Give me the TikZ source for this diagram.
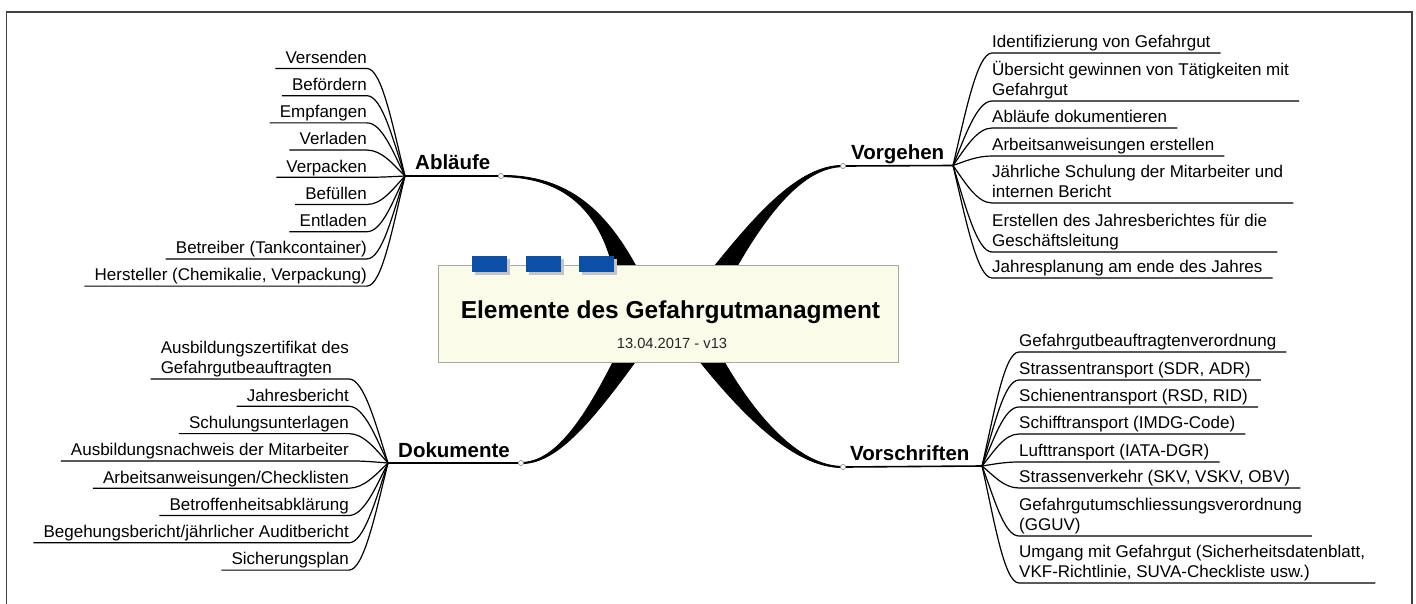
\documentclass[tikz,border=0pt]{standalone}
\usepackage{fontspec}
\setmainfont{Liberation Sans}
\usetikzlibrary{calc}
\definecolor{cream}{HTML}{FBFBEA}
\definecolor{boxline}{HTML}{A8A8A0}
\definecolor{tabblue}{HTML}{0B4FA6}
\definecolor{tabshade}{HTML}{C4C4C4}
\definecolor{framecol}{HTML}{404040}
\newcommand{\twolines}[2]{\begin{tabular}[b]{@{}l@{}}#1\\#2\end{tabular}}
\begin{document}
\begin{tikzpicture}[x=1pt,y=-1pt,
  kid/.style={inner sep=0pt, text depth=5pt, font=\fontsize{17}{20.5}\selectfont},
  lkid/.style={kid, anchor=south east},
  rkid/.style={kid, anchor=south west},
  branch/.style={inner sep=0pt, anchor=base west, font=\fontsize{20.5}{24}\selectfont\bfseries},
  twig/.style={line width=1.2pt, black},
  bough/.style={line width=1.6pt, black},
  knob/.style={circle, draw=gray, fill=white, inner sep=0pt, minimum size=5pt, line width=0.6pt},
  limb/.style={fill=black, draw=black, line width=0.8pt, line join=round},
  tabbox/.style={fill=tabblue, draw=none}
]
\useasboundingbox (0,0) rectangle (1416,604);
\fill[white] (0,0) rectangle (1416,604);
% frame
\draw[framecol, line width=1.3pt] (6.5,604) -- (6.5,12) -- (1412,12) -- (1412,604);

% fan points
\coordinate (fanA) at (405,176);
\coordinate (fanV) at (953,165.5);
\coordinate (fanD) at (388,463);
\coordinate (fanS) at (982,466);

% thick tapered limbs (behind the box)
\fill[limb] (501,175.4) .. controls (570,175) and (607,213) .. (637,268) -- (613,268) .. controls (600,215) and (568,177) .. (501,176.7) -- cycle;
\fill[limb] (843,165.4) .. controls (800,165) and (758,212) .. (713,268) -- (736,268) .. controls (766,216) and (802,167) .. (843,166.7) -- cycle;
\fill[limb] (521,463.6) .. controls (556,464) and (590,424) .. (638,358) -- (615,358) .. controls (583,422) and (554,462.5) .. (521,462.4) -- cycle;
\fill[limb] (843,467.6) .. controls (800,468) and (752,427) .. (697,358) -- (722,358) .. controls (759,423) and (802,466.5) .. (843,466.4) -- cycle;

% central box
\node[draw=boxline, fill=cream, line width=0.8pt, minimum width=460pt, minimum height=97pt, inner sep=0pt] (core) at (668,313.5) {};
\foreach \x in {472,526,579}{
  \fill[tabshade] (\x+2.5,258.5) rectangle (\x+37.5,274.5);
  \fill[tabblue] (\x,256) rectangle (\x+35,272);
}
\node[font=\fontsize{24.5}{28}\selectfont\bfseries, anchor=base, inner sep=0pt] (title) at (670.5,318) {Elemente des Gefahrgutmanagment};
\node[font=\fontsize{14.7}{17}\selectfont, anchor=base, inner sep=0pt, text=black!85] (date) at (672,348.5) {13.04.2017 - v13};

% branch labels, underlines, knobs
\node[branch] (lA) at (415,170) {Abläufe};
\node[branch] (lV) at (851,159.5) {Vorgehen};
\node[branch] (lD) at (398,457.3) {Dokumente};
\node[branch] (lS) at (850,460) {Vorschriften};
\node[knob] (kA) at (501,176) {};
\node[knob] (kV) at (843,166) {};
\node[knob] (kD) at (521,463) {};
\node[knob] (kS) at (843,467) {};
\draw[bough] (fanA) -- (kA.west);
\draw[bough] (fanV) -- (kV.east);
\draw[bough] (fanD) -- (kD.west);
\draw[bough] (fanS) -- (kS.east);

% Ablaeufe children
\node[lkid] (a1) at (367,68.5) {Versenden};
\node[lkid] (a2) at (367,95.7) {Befördern};
\node[lkid] (a3) at (367,122.9) {Empfangen};
\node[lkid] (a4) at (367,150.1) {Verladen};
\node[lkid] (a5) at (367,177.3) {Verpacken};
\node[lkid] (a6) at (367,204.5) {Befüllen};
\node[lkid] (a7) at (367,231.7) {Entladen};
\node[lkid] (a8) at (367,258.9) {Betreiber (Tankcontainer)};
\node[lkid] (a9) at (367,286.1) {Hersteller (Chemikalie, Verpackung)};
\foreach \k in {a1,a2,a3,a4,a5,a6,a7,a8,a9}{
  \draw[twig] ([xshift=-10pt]\k.south west) -- (\k.south east) .. controls ($(\k.south east)+(15,0)$) and ($(fanA)!0.45!(fanA|-\k.south)+(-12,0)$) .. (fanA);
}

% Dokumente children
\node[lkid] (d1) at (349,379) {\twolines{Ausbildungszertifikat des}{Gefahrgutbeauftragten}};
\node[lkid] (d2) at (349,406.3) {Jahresbericht};
\node[lkid] (d3) at (349,433.6) {Schulungsunterlagen};
\node[lkid] (d4) at (349,460.9) {Ausbildungsnachweis der Mitarbeiter};
\node[lkid] (d5) at (349,488.2) {Arbeitsanweisungen/Checklisten};
\node[lkid] (d6) at (349,515.5) {Betroffenheitsabklärung};
\node[lkid] (d7) at (349,542.8) {Begehungsbericht/jährlicher Auditbericht};
\node[lkid] (d8) at (349,570.1) {Sicherungsplan};
\foreach \k in {d1,d2,d3,d4,d5,d6,d7,d8}{
  \draw[twig] ([xshift=-10pt]\k.south west) -- (\k.south east) .. controls ($(\k.south east)+(15,0)$) and ($(fanD)!0.45!(fanD|-\k.south)+(-12,0)$) .. (fanD);
}

% Vorgehen children
\node[rkid] (v1) at (992,53) {Identifizierung von Gefahrgut};
\node[rkid] (v2) at (992,101) {\twolines{Übersicht gewinnen von Tätigkeiten mit}{Gefahrgut}};
\node[rkid] (v3) at (992,128) {Abläufe dokumentieren};
\node[rkid] (v4) at (992,156) {Arbeitsanweisungen erstellen};
\node[rkid] (v5) at (992,203) {\twolines{Jährliche Schulung der Mitarbeiter und}{internen Bericht}};
\node[rkid] (v6) at (992,252) {\twolines{Erstellen des Jahresberichtes für die}{Geschäftsleitung}};
\node[rkid] (v7) at (992,278) {Jahresplanung am ende des Jahres};
\foreach \k in {v1,v2,v3,v4,v5,v6,v7}{
  \draw[twig] (fanV) .. controls ($(fanV)!0.45!(fanV|-\k.south)+(12,0)$) and ($(\k.south west)+(-15,0)$) .. (\k.south west) -- ([xshift=10pt]\k.south east);
}

% Vorschriften children
\node[rkid] (s1) at (1019,352) {Gefahrgutbeauftragtenverordnung};
\node[rkid] (s2) at (1019,380) {Strassentransport (SDR, ADR)};
\node[rkid] (s3) at (1019,407) {Schienentransport (RSD, RID)};
\node[rkid] (s4) at (1019,434) {Schifftransport (IMDG-Code)};
\node[rkid] (s5) at (1019,462) {Lufttransport (IATA-DGR)};
\node[rkid] (s6) at (1019,488) {Strassenverkehr (SKV, VSKV, OBV)};
\node[rkid] (s7) at (1019,536) {\twolines{Gefahrgutumschliessungsverordnung}{(GGUV)}};
\node[rkid] (s8) at (1019,583) {\twolines{Umgang mit Gefahrgut (Sicherheitsdatenblatt,}{VKF-Richtlinie, SUVA-Checkliste usw.)}};
\foreach \k in {s1,s2,s3,s4,s5,s6,s7,s8}{
  \draw[twig] (fanS) .. controls ($(fanS)!0.45!(fanS|-\k.south)+(12,0)$) and ($(\k.south west)+(-15,0)$) .. (\k.south west) -- ([xshift=10pt]\k.south east);
}
\end{tikzpicture}
\end{document}
